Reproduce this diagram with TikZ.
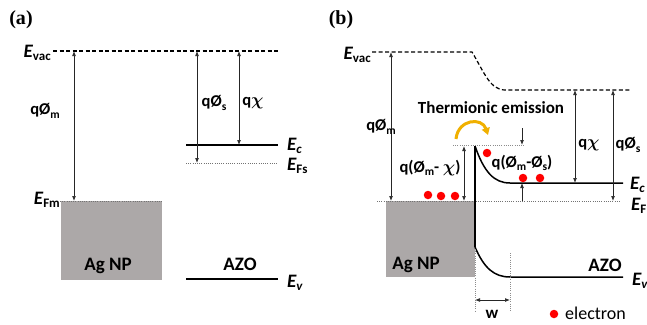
\documentclass[tikz,border=0pt]{standalone}
\usepackage{fontspec}
\usepackage{amsmath}
\setmainfont{Carlito}
\newfontfamily\panelfont{Liberation Serif}
\usetikzlibrary{arrows.meta}
\definecolor{metal}{RGB}{172,168,168}
\definecolor{gold}{RGB}{240,176,0}
\tikzset{
  band/.style={line width=1.5pt},
  vacuum/.style={line width=1.2pt,dash pattern=on 4pt off 2.5pt},
  fermi/.style={line width=0.6pt,black!55,dash pattern=on 1pt off 1.2pt},
  guide/.style={line width=0.6pt,black!45,dash pattern=on 1pt off 1.2pt},
  dim/.style={line width=0.65pt,black!85,{Latex[length=5pt,width=3.8pt]}-{Latex[length=5pt,width=3.8pt]}},
  tip/.style={line width=0.65pt,black!85,-{Latex[length=5pt,width=3.8pt]}},
  lbl/.style={font=\bfseries\fontsize{16.5}{18}\selectfont,inner sep=0pt},
  big/.style={font=\bfseries\fontsize{19}{22}\selectfont,inner sep=0pt},
  panel/.style={font=\panelfont\bfseries\fontsize{20}{22}\selectfont,inner sep=0pt},
  elec/.style={circle,fill=red,inner sep=0pt,minimum size=8.5pt},
}
\newcommand{\levl}[1]{{\fontsize{19}{20}\selectfont\bfseries\itshape E}\raisebox{-0.45ex}{\fontsize{13}{13}\selectfont\bfseries #1}}
\newcommand{\qsub}[1]{\raisebox{-0.45ex}{\fontsize{11.5}{11.5}\selectfont #1}}
\begin{document}
\begin{tikzpicture}[x=1pt,y=-1pt]
\useasboundingbox (0,0) rectangle (647,324);
% ---- (a) before contact
\node[panel] (pa) at (21,20) {(a)};
\draw[vacuum] (53,51)--(278,51);
\node[lbl,anchor=east] (evacA) at (51,53) {\levl{vac}};
\fill[metal] (61,201) rectangle (162,280);
\draw[fermi] (60,201)--(162,201);
\node[lbl,anchor=east] (efmA) at (60,200) {\levl{Fm}};
\node[big] (agA) at (108,266) {Ag NP};
\draw[dim] (74,51)--(74,201);
\node[lbl] (phimA) at (45,111) {q\O\qsub{m}};
\draw[band] (186,145)--(278,145);
\draw[fermi] (186,163)--(278,163);
\draw[band] (186,279)--(278,279);
\draw[dim] (197,51)--(197,163);
\draw[dim] (239,51)--(239,145);
\node[lbl] (phisA) at (214,103) {q\O\qsub{s}};
\node[lbl] (chiA) at (253,103) {q$\boldsymbol{\chi}$};
\node[lbl,anchor=west] (ecA) at (287,146) {\levl{\itshape c}};
\node[lbl,anchor=west] (efsA) at (287,166) {\levl{Fs}};
\node[lbl,anchor=west] (evA) at (287,283) {\levl{\itshape v}};
\node[big] (azoA) at (240,264) {AZO};
% ---- (b) after contact
\node[panel] (pb) at (341,20) {(b)};
\draw[vacuum] (372,52)--(472,52)..controls (484,72) and (490,90)..(505,90)--(630,90);
\node[lbl,anchor=east] (evacB) at (371,55) {\levl{vac}};
\fill[metal] (386,201) rectangle (475,277);
\draw[fermi] (377,201)--(621,201);
\node[big] (agB) at (416,265) {Ag NP};
\draw[band] (475,146)--(475,247);
\draw[band] (475,146)..controls (484,172) and (494,183)..(510,183)--(623,183);
\draw[band] (475,247)..controls (484,268) and (494,277)..(510,277)--(623,277);
\draw[guide] (475,249)--(475,312);
\draw[guide] (510,253)--(510,312);
\draw[dim] (475,300)--(510,300);
\node[big,font=\bfseries\fontsize{17}{20}\selectfont] (wB) at (492,314) {w};
\draw[guide] (453,145)--(524,145);
\draw[tip] (522,128)--(522,145);
\draw[tip] (522,201)--(522,183);
\draw[dim] (464,146)--(464,201);
\draw[dim] (391,52)--(391,201);
\node[lbl] (phimB) at (381,127) {q\O\qsub{m}};
\node[lbl] (barB) at (430,168) {q(\O\qsub{m}- $\boldsymbol{\chi}$)};
\node[lbl] (diffB) at (522,163) {q(\O\qsub{m}-\O\qsub{s})};
\node[lbl,font=\bfseries\fontsize{17}{20}\selectfont] (thermB) at (491,108) {Thermionic emission};
\draw[gold,line width=3pt,-{Triangle[length=7pt,width=8pt]}] (456,139)..controls (458,119) and (482,117)..(488,135);
\foreach \x/\y in {428/195,441/196,455/196,487/153,523/178,540/178}
  \node[elec] at (\x,\y) {};
\draw[dim] (575,90)--(575,183);
\draw[dim] (613,90)--(613,201);
\node[lbl] (chiB) at (589,145) {q$\boldsymbol{\chi}$};
\node[lbl] (phisB) at (628,145) {q\O\qsub{s}};
\node[lbl,anchor=west] (ecB) at (630,185) {\levl{\itshape c}};
\node[lbl,anchor=west] (efB) at (631,206) {\levl{F}};
\node[lbl,anchor=west] (evB) at (632,281) {\levl{\itshape v}};
\node[big] (azoB) at (605,265) {AZO};
\node[elec] (legdot) at (554,314) {};
\node[anchor=west,inner sep=0pt,font=\fontsize{18}{20}\selectfont] (legtxt) at (565,313) {electron};
\end{tikzpicture}
\end{document}
